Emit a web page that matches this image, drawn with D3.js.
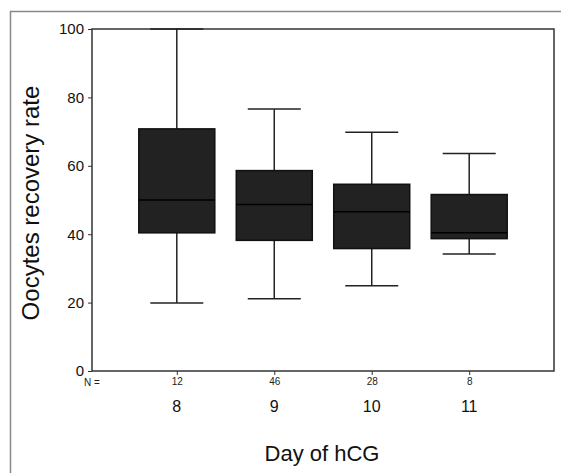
<!DOCTYPE html>
<html>
<head>
<meta charset="utf-8">
<script src="https://cdn.jsdelivr.net/npm/d3@7"></script>
<style>
  body { margin: 0; background: #fff; }
  text { font-family: "Liberation Sans", Arial, sans-serif; }
</style>
</head>
<body>
<script>
// data
var days = ["8", "9", "10", "11"];
var counts = ["12", "46", "28", "8"];
var whiskerLow = [19.9, 21.1, 24.9, 34.2];
var q1 = [40.4, 38.2, 35.8, 38.7];
var median = [50.0, 48.7, 46.6, 40.4];
var q3 = [70.8, 58.6, 54.6, 51.6];
var whiskerHigh = [100, 76.6, 69.8, 63.6];
var yTicks = [0, 20, 40, 60, 80, 100];

var boxes = days.map(function (d, i) {
    return { day: d, n: counts[i], lo: whiskerLow[i], q1: q1[i], med: median[i], q3: q3[i], hi: whiskerHigh[i] };
});

var width = 561, height = 473;
var plotL = 92, plotR = 554, plotT = 29, plotB = 371;

var svg = d3.select("body").append("svg")
    .attr("width", width)
    .attr("height", height);

// outer frame (only top and left edges show)
svg.append("path")
    .attr("d", "M10.5," + height + "V11.5H" + width)
    .attr("fill", "none")
    .attr("stroke", "#888")
    .attr("stroke-width", 1.5);

var x = d3.scalePoint().domain(days).range([plotL, plotR]).padding(0.87);
var y = d3.scaleLinear().domain([0, 100]).range([plotB, plotT]);
var boxW = 76, capW = 53;

// plot border
svg.append("rect")
    .attr("x", plotL).attr("y", plotT)
    .attr("width", plotR - plotL).attr("height", plotB - plotT)
    .attr("fill", "none")
    .attr("stroke", "#333")
    .attr("stroke-width", 1.5);

// y axis
var yAxis = svg.append("g")
    .attr("transform", "translate(" + plotL + ",0)")
    .call(d3.axisLeft(y).tickValues(yTicks).tickSize(4).tickPadding(4));
yAxis.select(".domain").remove();
yAxis.selectAll("line").attr("stroke", "#333");
yAxis.selectAll("text")
    .attr("font-size", 15)
    .attr("fill", "#111")
    .style("font-family", "Liberation Sans, Arial, sans-serif");

// x ticks with N counts
var xAxis = svg.append("g")
    .attr("transform", "translate(0," + plotB + ")")
    .call(d3.axisBottom(x).tickSize(4).tickFormat(function (d, i) { return counts[i]; }).tickPadding(3));
xAxis.select(".domain").remove();
xAxis.selectAll("line").attr("stroke", "#333");
xAxis.selectAll("text")
    .attr("font-size", 10)
    .attr("fill", "#222")
    .style("font-family", "Liberation Sans, Arial, sans-serif");

svg.append("text")
    .attr("x", 92).attr("y", 386)
    .attr("text-anchor", "middle")
    .attr("font-size", 10)
    .attr("fill", "#222")
    .text("N =");

svg.selectAll(".day")
    .data(days)
    .enter().append("text")
    .attr("class", "day")
    .attr("x", function (d) { return x(d); })
    .attr("y", 412)
    .attr("text-anchor", "middle")
    .attr("font-size", 16)
    .attr("fill", "#111")
    .text(function (d) { return d; });

// boxes
var g = svg.selectAll(".box")
    .data(boxes)
    .enter().append("g")
    .attr("class", "box");

g.append("line")
    .attr("x1", function (d) { return x(d.day); })
    .attr("x2", function (d) { return x(d.day); })
    .attr("y1", function (d) { return y(d.hi); })
    .attr("y2", function (d) { return y(d.lo); })
    .attr("stroke", "#222")
    .attr("stroke-width", 1.5);

g.selectAll(".cap")
    .data(function (d) { return [{ day: d.day, v: d.lo }, { day: d.day, v: d.hi }]; })
    .enter().append("line")
    .attr("x1", function (d) { return x(d.day) - capW / 2; })
    .attr("x2", function (d) { return x(d.day) + capW / 2; })
    .attr("y1", function (d) { return y(d.v); })
    .attr("y2", function (d) { return y(d.v); })
    .attr("stroke", "#222")
    .attr("stroke-width", 1.5);

g.append("rect")
    .attr("x", function (d) { return x(d.day) - boxW / 2; })
    .attr("y", function (d) { return y(d.q3); })
    .attr("width", boxW)
    .attr("height", function (d) { return y(d.q1) - y(d.q3); })
    .attr("fill", "#222")
    .attr("stroke", "#111")
    .attr("stroke-width", 1.5);

g.append("line")
    .attr("x1", function (d) { return x(d.day) - boxW / 2; })
    .attr("x2", function (d) { return x(d.day) + boxW / 2; })
    .attr("y1", function (d) { return y(d.med); })
    .attr("y2", function (d) { return y(d.med); })
    .attr("stroke", "#000")
    .attr("stroke-width", 1.5);

// axis titles
svg.append("text")
    .attr("transform", "translate(39,203) rotate(-90)")
    .attr("text-anchor", "middle")
    .attr("font-size", 24)
    .attr("fill", "#111")
    .text("Oocytes recovery rate");

svg.append("text")
    .attr("x", 322).attr("y", 461)
    .attr("text-anchor", "middle")
    .attr("font-size", 22)
    .attr("fill", "#111")
    .text("Day of hCG");
</script>
</body>
</html>
